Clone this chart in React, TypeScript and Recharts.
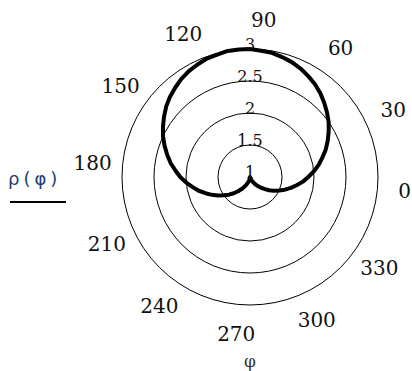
import { RadarChart, Radar, PolarGrid, PolarAngleAxis, PolarRadiusAxis } from 'recharts';

// angle in degrees, rho
const angles = [
  0, 5, 10, 15, 20, 25, 30, 35, 40, 45, 50, 55, 60, 65, 70, 75, 80, 85,
  90, 95, 100, 105, 110, 115, 120, 125, 130, 135, 140, 145, 150, 155, 160, 165, 170, 175,
  180, 185, 190, 195, 200, 205, 210, 215, 220, 225, 230, 235, 240, 245, 250, 255, 260, 265,
  270, 275, 280, 285, 290, 295, 300, 305, 310, 315, 320, 325, 330, 335, 340, 345, 350, 355,
];
const rho = [
  2.0, 2.09, 2.17, 2.26, 2.34, 2.42, 2.5, 2.57, 2.64, 2.71, 2.77, 2.82, 2.87, 2.91, 2.94, 2.97, 2.98, 3.0,
  3.0, 3.0, 2.98, 2.97, 2.94, 2.91, 2.87, 2.82, 2.77, 2.71, 2.64, 2.57, 2.5, 2.42, 2.34, 2.26, 2.17, 2.09,
  2.0, 1.91, 1.83, 1.74, 1.66, 1.58, 1.5, 1.43, 1.36, 1.29, 1.23, 1.18, 1.13, 1.09, 1.06, 1.03, 1.02, 1.0,
  1.0, 1.0, 1.02, 1.03, 1.06, 1.09, 1.13, 1.18, 1.23, 1.29, 1.36, 1.43, 1.5, 1.58, 1.66, 1.74, 1.83, 1.91,
];
const radiusTicks = [1, 1.5, 2, 2.5, 3];
const labelStep = 30;

const data = angles.map((a, i) => ({ angle: a, rho: rho[i] }));

const AngleTick = (props: any) => {
  const { x, y, payload } = props;
  if (payload.value % labelStep !== 0) return null;
  // the 0 label sits against the right edge, keep it inside
  const anchor = payload.value === 0 ? 'end' : 'middle';
  const tx = payload.value === 0 ? Math.min(x + 6, 411) : x;
  return (
    <text x={tx} y={y + 7} textAnchor={anchor} fontFamily="DejaVu Serif" fontSize={20} fill="#111">
      {payload.value}
    </text>
  );
};

const RadiusTick = (props: any) => {
  const { x, y, payload } = props;
  return (
    <text x={x} y={y + 1} textAnchor="middle" fontFamily="DejaVu Serif" fontSize={16} fill="#111">
      {payload.value}
    </text>
  );
};

export default function App() {
  return (
    <div style={{ position: 'absolute', left: 0, top: 0, width: 412, height: 371, background: '#fff' }}>
      <RadarChart
        width={412}
        height={371}
        data={data}
        cx={250}
        cy={177}
        innerRadius={0}
        outerRadius={128}
        startAngle={0}
        endAngle={360}
        margin={{ top: 0, right: 0, bottom: 0, left: 0 }}
      >
        <PolarGrid gridType="circle" radialLines={false} stroke="#000" strokeWidth={1} />
        <PolarAngleAxis
          dataKey="angle"
          axisLine={false}
          tickLine={false}
          tickSize={30}
          tick={<AngleTick />}
        />
        <PolarRadiusAxis
          angle={90}
          domain={[1, 3]}
          ticks={radiusTicks as any}
          tickCount={5}
          axisLine={false}
          tickLine={false}
          tick={<RadiusTick />}
        />
        <Radar
          dataKey="rho"
          stroke="#000"
          strokeWidth={4}
          strokeLinejoin="round"
          fill="none"
          fillOpacity={0}
          dot={false}
          isAnimationActive={false}
        />
      </RadarChart>
      <svg width={412} height={371} style={{ position: 'absolute', left: 0, top: 0, pointerEvents: 'none' }}>
        <text x={8} y={185} fontFamily="DejaVu Sans" fontSize={18} letterSpacing={4} fill="#1f3b73">
          ρ(φ)
        </text>
        <line x1={10} y1={202} x2={66} y2={202} stroke="#000" strokeWidth={2} />
        <text x={250} y={367} textAnchor="middle" fontFamily="DejaVu Serif" fontSize={17} fill="#333">
          φ
        </text>
      </svg>
    </div>
  );
}
